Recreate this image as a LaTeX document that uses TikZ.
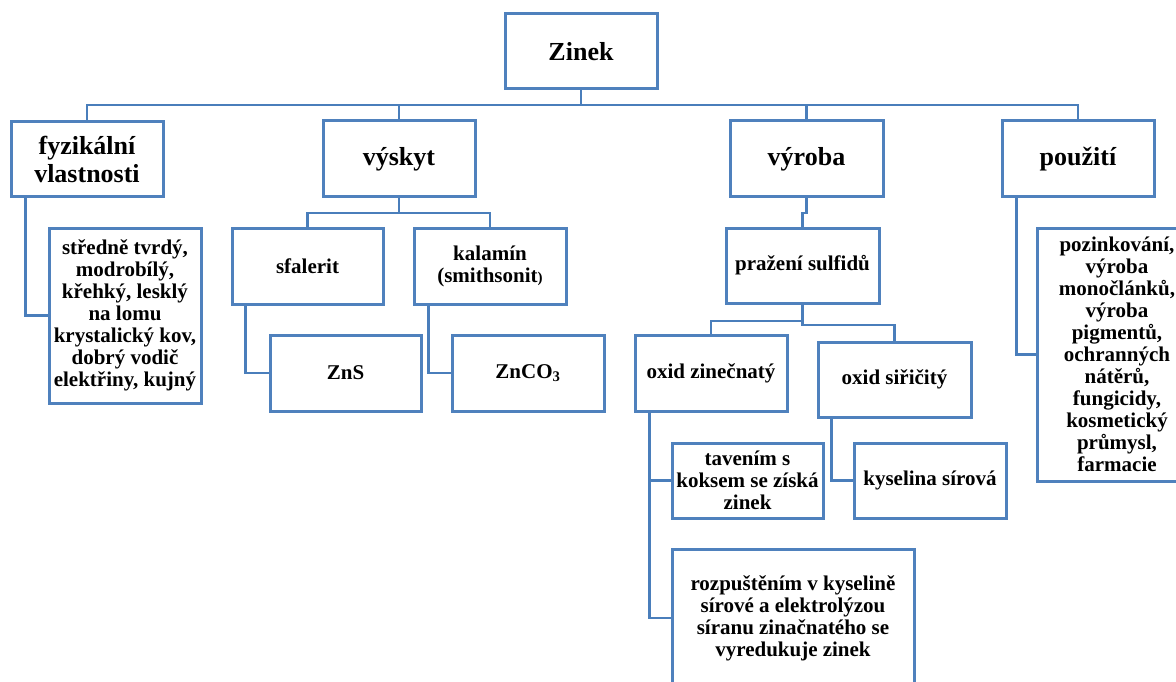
\documentclass[tikz,border=0pt]{standalone}
\usepackage{fontspec}
\setmainfont{Liberation Serif}
\definecolor{boxblue}{RGB}{79,129,189}
\definecolor{linkblue}{RGB}{74,126,187}
\begin{document}
\begin{tikzpicture}[x=1pt,y=-1pt,
  box/.style={draw=boxblue,line width=3pt,fill=white,rectangle,align=center,inner sep=0pt,
     font=\bfseries\fontsize{21}{22}\selectfont},
  headbox/.style={box,font=\bfseries\fontsize{26}{28}\selectfont},
  link/.style={draw=linkblue,line width=2.9pt}]
\useasboundingbox (0,0) rectangle (1176,682);
% level 0/1
\node[headbox,minimum width=152pt,minimum height=75pt] (zinek) at (581,51.5) {Zinek};
\node[headbox,minimum width=152pt,minimum height=75pt] (fyz) at (87,159.5) {fyzikální\\vlastnosti};
\node[headbox,minimum width=152pt,minimum height=76pt] (vyskyt) at (399,159) {výskyt};
\node[headbox,minimum width=153pt,minimum height=76pt] (vyroba) at (806.5,159) {výroba};
\node[headbox,minimum width=152pt,minimum height=76pt] (pouziti) at (1078,159) {použití};
% children
\node[box,minimum width=152pt,minimum height=175pt] (vlast) at (125,315.5)
  {středně tvrdý,\\modrobílý,\\křehký, lesklý\\na lomu\\krystalický kov,\\dobrý vodič\\elektřiny, kujný};
\node[box,minimum width=151pt,minimum height=76pt] (sfal) at (307.5,266) {sfalerit};
\node[box,minimum width=152pt,minimum height=76pt] (kalam) at (490,266) {kalamín\\(smithsonit{\fontsize{15}{16}\selectfont)}};
\node[box,minimum width=151pt,minimum height=76pt] (zns) at (345.5,373) {ZnS};
\node[box,minimum width=152pt,minimum height=76pt] (znco) at (528,373) {ZnCO\textsubscript{3}};
\node[box,minimum width=153pt,minimum height=75pt] (praz) at (802.5,265.5) {pražení sulfidů};
\node[box,minimum width=152pt,minimum height=76pt] (oxzn) at (711,373) {oxid zinečnatý};
\node[box,minimum width=153pt,minimum height=75pt] (oxs) at (894.5,379.5) {oxid siřičitý};
\node[box,minimum width=151pt,minimum height=75pt] (tav) at (747.5,480.5) {tavením s\\koksem se získá\\zinek};
\node[box,minimum width=152pt,minimum height=75pt] (kys) at (930,480.5) {kyselina sírová};
\node[box,minimum width=242pt,minimum height=138pt] (rozp) at (793,618)
  {rozpuštěním v kyselině\\sírové a elektrolýzou\\síranu zinačnatého se\\vyredukuje zinek};
\node[box,minimum width=160pt,minimum height=253pt] (pouz) at (1117,354.5)
  {pozinkování,\\výroba\\monočlánků,\\výroba\\pigmentů,\\ochranných\\nátěrů,\\fungicidy,\\kosmetický\\průmysl,\\farmacie};
% connectors
\coordinate (bus) at (581,105);
\draw[link] (zinek) -- (bus);
\draw[link] (bus) -| (fyz);
\draw[link] (bus) -| (vyskyt);
\draw[link] (bus) -| (vyroba);
\draw[link] (bus) -| (pouziti);
\draw[link] ([xshift=16pt]fyz.south west) |- (vlast.west);
\coordinate (vb) at (399,213);
\draw[link] (vyskyt) -- (vb);
\draw[link] (vb) -| (sfal);
\draw[link] (vb) -| (kalam);
\draw[link] ([xshift=15pt]sfal.south west) |- (zns.west);
\draw[link] ([xshift=16pt]kalam.south west) |- (znco.west);
\coordinate (rb) at (806.5,213);
\draw[link] (vyroba) -- (rb) -| (praz);
\coordinate (pa) at (802.5,321);
\coordinate (pb) at (802.5,325);
\draw[link] (praz) -- (pa) -| (oxzn);
\draw[link] (pa) -- (pb) -| (oxs);
\draw[link] ([xshift=16pt]oxzn.south west) |- (tav.west);
\draw[link] ([xshift=16pt]oxzn.south west) |- (rozp.west);
\draw[link] ([xshift=15pt]oxs.south west) |- (kys.west);
\draw[link] ([xshift=16pt]pouziti.south west) |- (pouz.west);
\end{tikzpicture}
\end{document}
